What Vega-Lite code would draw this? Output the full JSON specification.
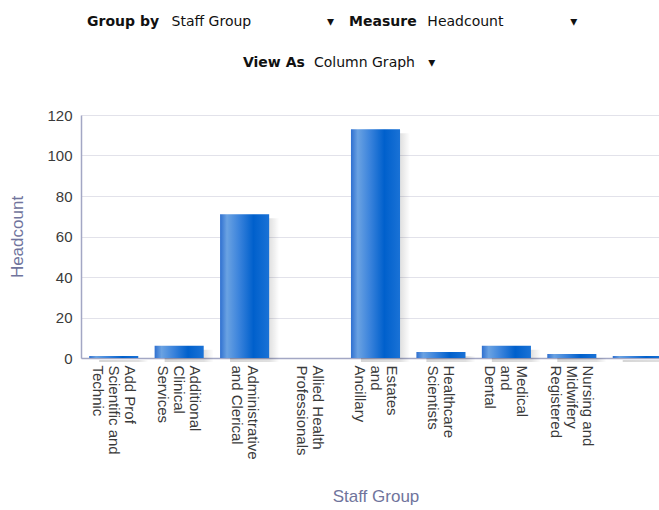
{
  "$schema": "https://vega.github.io/schema/vega-lite/v6.json",
  "width": 589,
  "height": 243,
  "padding": {"left": 8, "top": 15, "right": 0, "bottom": 5},
  "background": "white",
  "title": {
    "text": ["Group by\u00a0\u00a0\u00a0\u00a0\u00a0\u00a0\u00a0\u00a0\u00a0\u00a0\u00a0\u00a0\u00a0\u00a0\u00a0\u00a0\u00a0\u00a0\u00a0\u00a0\u00a0\u00a0\u00a0\u00a0\u00a0\u00a0\u00a0\u00a0\u00a0\u00a0\u00a0\u00a0\u00a0\u00a0\u00a0\u00a0\u00a0\u00a0\u00a0Measure", "\u200b\u00a0\u00a0\u00a0\u00a0\u00a0\u00a0\u00a0\u00a0\u00a0\u00a0\u00a0\u00a0\u00a0\u00a0\u00a0\u00a0\u00a0\u00a0\u00a0\u00a0\u00a0\u00a0\u00a0\u00a0\u00a0\u00a0\u00a0\u00a0\u00a0\u00a0\u00a0\u00a0View As"],
    "subtitle": ["\u200b\u00a0\u00a0\u00a0\u00a0\u00a0\u00a0\u00a0\u00a0\u00a0\u00a0\u00a0\u00a0\u00a0\u00a0\u00a0\u00a0\u00a0\u00a0\u00a0Staff Group\u00a0\u00a0\u00a0\u00a0\u00a0\u00a0\u00a0\u00a0\u00a0\u00a0\u00a0\u00a0\u00a0\u00a0\u00a0\u00a0\u00a0▾\u00a0\u00a0\u00a0\u00a0\u00a0\u00a0\u00a0\u00a0\u00a0\u00a0\u00a0\u00a0\u00a0\u00a0\u00a0\u00a0\u00a0\u00a0\u00a0\u00a0\u00a0Headcount\u00a0\u00a0\u00a0\u00a0\u00a0\u00a0\u00a0\u00a0\u00a0\u00a0\u00a0\u00a0\u00a0\u00a0\u00a0▾", "\u200b\u00a0\u00a0\u00a0\u00a0\u00a0\u00a0\u00a0\u00a0\u00a0\u00a0\u00a0\u00a0\u00a0\u00a0\u00a0\u00a0\u00a0\u00a0\u00a0\u00a0\u00a0\u00a0\u00a0\u00a0\u00a0\u00a0\u00a0\u00a0\u00a0\u00a0\u00a0\u00a0\u00a0\u00a0\u00a0\u00a0\u00a0\u00a0\u00a0\u00a0\u00a0\u00a0\u00a0\u00a0\u00a0\u00a0\u00a0\u00a0\u00a0\u00a0\u00a0Column Graph\u00a0\u00a0\u00a0▾"],
    "font": "DejaVu Sans",
    "fontSize": 14,
    "fontWeight": "bold",
    "color": "#111111",
    "lineHeight": 41,
    "subtitleFont": "DejaVu Sans",
    "subtitleFontSize": 14,
    "subtitleFontWeight": "normal",
    "subtitleColor": "#111111",
    "subtitleLineHeight": 41,
    "subtitlePadding": -55,
    "anchor": "start",
    "frame": "group",
    "dx": 6,
    "offset": 38
  },
  "data": {
    "values": [
      {"group": "Add Prof Scientific and Technic", "headcount": 1},
      {"group": "Additional Clinical Services", "headcount": 6},
      {"group": "Administrative and Clerical", "headcount": 71},
      {"group": "Allied Health Professionals", "headcount": 0},
      {"group": "Estates and Ancillary", "headcount": 113},
      {"group": "Healthcare Scientists", "headcount": 3},
      {"group": "Medical and Dental", "headcount": 6},
      {"group": "Nursing and Midwifery Registered", "headcount": 2},
      {"group": "Students", "headcount": 1}
    ]
  },
  "encoding": {
    "x": {
      "field": "group",
      "type": "nominal",
      "sort": null,
      "scale": {"paddingInner": 0.25, "paddingOuter": 0.125},
      "axis": {
        "title": "Staff Group",
        "titleFont": "Liberation Sans",
        "titleFontSize": 17,
        "titleFontWeight": "normal",
        "titleColor": "#70749c",
        "titlePadding": 29,
        "labelAngle": 90,
        "labelFont": "Liberation Sans",
        "labelFontSize": 15,
        "labelColor": "#3a3a3a",
        "labelLineHeight": 16,
        "labelPadding": 7,
        "labelOverlap": false,
        "labelOffset": {
          "condition": {
            "test": "indexof(['Administrative and Clerical', 'Allied Health Professionals', 'Healthcare Scientists'], datum.value) >= 0",
            "value": 8
          },
          "value": 16
        },
        "ticks": false,
        "domainColor": "#a3a7c4",
        "domainWidth": 1.5,
        "labelExpr": "datum.value == 'Add Prof Scientific and Technic' ? ['Add Prof', 'Scientific and', 'Technic'] : datum.value == 'Additional Clinical Services' ? ['Additional', 'Clinical', 'Services'] : datum.value == 'Administrative and Clerical' ? ['Administrative', 'and Clerical'] : datum.value == 'Allied Health Professionals' ? ['Allied Health', 'Professionals'] : datum.value == 'Estates and Ancillary' ? ['Estates', 'and', 'Ancillary'] : datum.value == 'Healthcare Scientists' ? ['Healthcare', 'Scientists'] : datum.value == 'Medical and Dental' ? ['Medical', 'and', 'Dental'] : datum.value == 'Nursing and Midwifery Registered' ? ['Nursing and', 'Midwifery', 'Registered'] : ''"
      }
    },
    "y": {
      "field": "headcount",
      "type": "quantitative",
      "scale": {"domain": [0, 120], "nice": false},
      "axis": {
        "title": "Headcount",
        "titleFont": "Liberation Sans",
        "titleFontSize": 17,
        "titleFontWeight": "normal",
        "titleColor": "#70749c",
        "titlePadding": 20,
        "values": [0, 20, 40, 60, 80, 100, 120],
        "labelFont": "Liberation Sans",
        "labelFontSize": 15,
        "labelColor": "#3a3a3a",
        "labelPadding": 9,
        "ticks": false,
        "domainColor": "#a3a7c4",
        "domainWidth": 1.5,
        "gridColor": "#e2e2ea",
        "gridWidth": 1
      }
    }
  },
  "layer": [
    {
      "mark": {
        "type": "bar",
        "xOffset": 10,
        "yOffset": 4,
        "fill": {
          "gradient": "linear",
          "x1": 0, "y1": 0, "x2": 1, "y2": 0,
          "stops": [
            {"offset": 0, "color": "rgba(0,0,0,0.16)"},
            {"offset": 0.8, "color": "rgba(0,0,0,0.12)"},
            {"offset": 1, "color": "rgba(0,0,0,0)"}
          ]
        }
      }
    },
    {
      "mark": {
        "type": "bar",
        "fill": {
          "gradient": "linear",
          "x1": 0, "y1": 0, "x2": 1, "y2": 0,
          "stops": [
            {"offset": 0, "color": "#2f70d0"},
            {"offset": 0.14, "color": "#6aa2e2"},
            {"offset": 0.38, "color": "#3c84dc"},
            {"offset": 0.68, "color": "#0060cc"},
            {"offset": 1, "color": "#1a72d6"}
          ]
        }
      }
    }
  ],
  "config": {
    "view": {"stroke": null}
  }
}
